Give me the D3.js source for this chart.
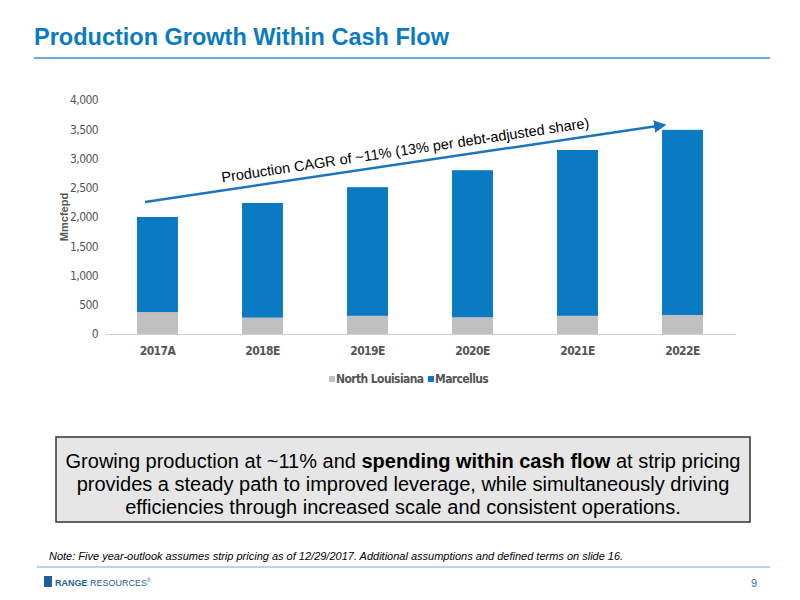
<!DOCTYPE html>
<html><head><meta charset="utf-8">
<script src="https://cdn.jsdelivr.net/npm/d3@7"></script>
<style>body{margin:0;background:#fff;font-family:Arial,"Liberation Sans",sans-serif}
.narrow{font-family:"Liberation Sans Narrow","DejaVu Sans Condensed",Arial,sans-serif;letter-spacing:-0.6px}</style>
</head><body><svg id="c" width="800" height="600"></svg>
<script>
// chart data
const years = ["2017A", "2018E", "2019E", "2020E", "2021E", "2022E"];
const northLouisiana = [375, 280, 310, 285, 310, 325];
const marcellus = [1625, 1960, 2200, 2515, 2835, 3165];
const yTicks = [0, 500, 1000, 1500, 2000, 2500, 3000, 3500, 4000];

const svg = d3.select("#c");
const blue = "#0a7bc2";

// title
svg.append("text").attr("x", 34).attr("y", 45).attr("fill", blue)
  .attr("font-size", 23.5).attr("font-weight", "bold").text("Production Growth Within Cash Flow");
svg.append("line").attr("x1", 34).attr("x2", 770).attr("y1", 58).attr("y2", 58)
  .attr("stroke", "#3a8fcf").attr("stroke-width", 1.5);

const x = d3.scaleBand().domain(years).range([105, 735]).paddingInner(0.61).paddingOuter(0.305);
const y = d3.scaleLinear().domain([0, 4000]).range([334, 100]);

// y axis
const ya = svg.append("g").attr("transform", "translate(100,0)")
  .call(d3.axisLeft(y).tickValues(yTicks).tickFormat(d3.format(",")).tickSize(0).tickPadding(2));
ya.select(".domain").remove();
ya.selectAll("text").attr("class", "narrow").attr("font-size", 12).attr("fill", "#555");

// x axis
const xa = svg.append("g").attr("transform", "translate(0,334)")
  .call(d3.axisBottom(x).tickSize(0).tickPadding(12));
xa.select(".domain").attr("stroke", "#d0d0d0");
xa.selectAll("text").attr("class", "narrow").attr("font-size", 12).attr("font-weight", "bold").attr("fill", "#555");

svg.append("text").attr("transform", "translate(68,217) rotate(-90)").attr("text-anchor", "middle")
  .attr("font-size", 11).attr("font-weight", "bold").attr("fill", "#555").text("Mmcfepd");

// stacked bars
svg.append("g").selectAll("rect").data(years).join("rect")
  .attr("x", d => x(d)).attr("width", x.bandwidth())
  .attr("y", (d, i) => y(northLouisiana[i])).attr("height", (d, i) => y(0) - y(northLouisiana[i]))
  .attr("fill", "#c0c0c0");
svg.append("g").selectAll("rect").data(years).join("rect")
  .attr("x", d => x(d)).attr("width", x.bandwidth())
  .attr("y", (d, i) => y(northLouisiana[i] + marcellus[i])).attr("height", (d, i) => y(northLouisiana[i]) - y(northLouisiana[i] + marcellus[i]))
  .attr("fill", blue);

// legend
const lg = svg.append("g").attr("font-size", 12).attr("font-weight", "bold");
lg.append("rect").attr("x", 329).attr("y", 376).attr("width", 6).attr("height", 6).attr("fill", "#c0c0c0");
lg.append("text").attr("class", "narrow").attr("x", 336).attr("y", 383).attr("fill", "#555").text("North Louisiana");
lg.append("rect").attr("x", 428).attr("y", 376).attr("width", 6).attr("height", 6).attr("fill", blue);
lg.append("text").attr("class", "narrow").attr("x", 435).attr("y", 383).attr("fill", "#555").text("Marcellus");

// CAGR arrow
svg.append("defs").append("marker").attr("id", "ah").attr("viewBox", "0 0 10 10")
  .attr("refX", 8).attr("refY", 5).attr("markerWidth", 5).attr("markerHeight", 5).attr("orient", "auto")
  .append("path").attr("d", "M0,0L10,5L0,10z").attr("fill", "#1c75bc");
svg.append("line").attr("x1", 145).attr("y1", 202).attr("x2", 664).attr("y2", 125)
  .attr("stroke", "#1c75bc").attr("stroke-width", 2.5).attr("marker-end", "url(#ah)");
svg.append("text").attr("transform", "translate(406,155) rotate(-8.5)").attr("text-anchor", "middle")
  .attr("font-size", 14.5).attr("fill", "#000").text("Production CAGR of ~11% (13% per debt-adjusted share)");

// callout box
svg.append("rect").attr("x", 56).attr("y", 437).attr("width", 694).attr("height", 85)
  .attr("fill", "#e6e6e6").attr("stroke", "#333").attr("stroke-width", 1.5);
const bt = svg.append("text").attr("text-anchor", "middle").attr("font-size", 20).attr("fill", "#000");
const l1 = bt.append("tspan").attr("x", 403).attr("y", 468);
l1.append("tspan").text("Growing production at ~11% and ");
l1.append("tspan").attr("font-weight", "bold").text("spending within cash flow");
l1.append("tspan").text(" at strip pricing");
bt.append("tspan").attr("x", 403).attr("y", 491).text("provides a steady path to improved leverage, while simultaneously driving");
bt.append("tspan").attr("x", 403).attr("y", 514).text("efficiencies through increased scale and consistent operations.");

// footer
svg.append("text").attr("x", 49).attr("y", 560).attr("font-size", 11).attr("font-style", "italic").attr("fill", "#000")
  .text("Note: Five year-outlook assumes strip pricing as of 12/29/2017.  Additional assumptions and defined terms on slide 16.");
svg.append("line").attr("x1", 37).attr("x2", 770).attr("y1", 567).attr("y2", 567).attr("stroke", "#6aaad8");
svg.append("rect").attr("x", 44).attr("y", 576).attr("width", 8).attr("height", 11).attr("fill", "#1f5f9a");
svg.append("text").attr("x", 55).attr("y", 586).attr("font-size", 9).attr("fill", "#1f5f9a")
  .html("<tspan font-weight='bold'>RANGE</tspan> RESOURCES<tspan font-size='5' dy='-4'>®</tspan>");
svg.append("text").attr("x", 757).attr("y", 587).attr("font-size", 11).attr("fill", "#1c75bc").attr("text-anchor", "end").text("9");
</script></body></html>
